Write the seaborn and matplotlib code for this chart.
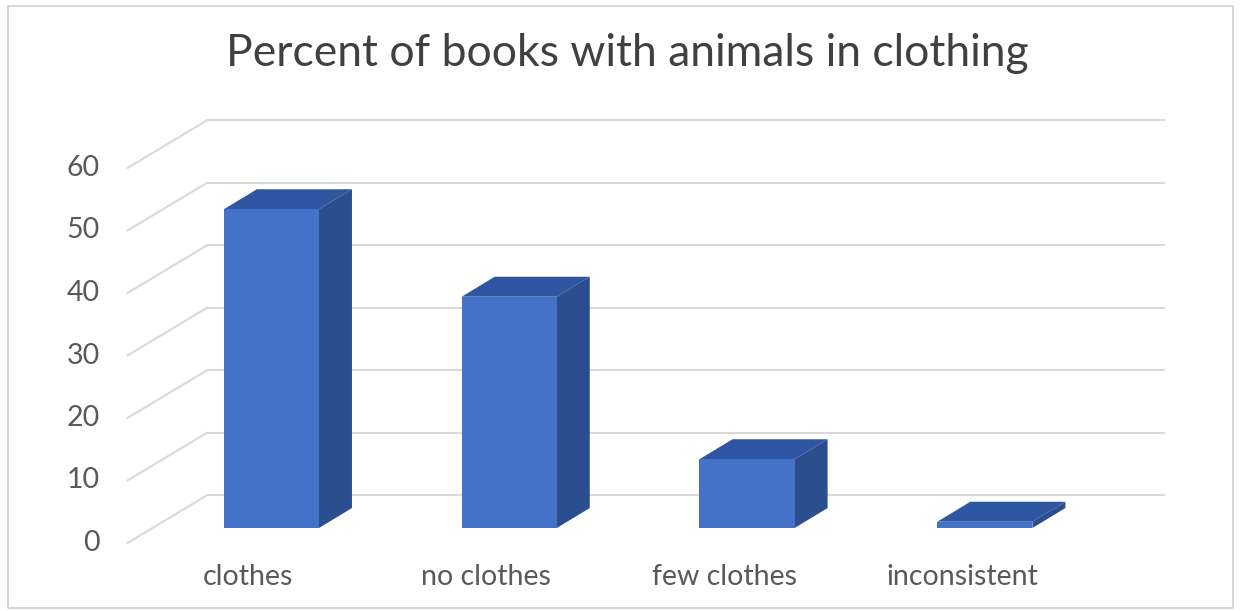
import numpy as np
import pandas as pd
import seaborn as sns
import matplotlib
matplotlib.use("Agg")
import matplotlib.pyplot as plt
from matplotlib.transforms import offset_copy, IdentityTransform
from matplotlib.patches import Polygon, Rectangle
from matplotlib.lines import Line2D

categories = ["clothes", "no clothes", "few clothes", "inconsistent"]
percent = [51, 37, 11, 1]
yticks = [0, 10, 20, 30, 40, 50, 60]
title = "Percent of books with animals in clothing"

sns.set_theme(style="white")
plt.rcParams['font.family'] = ['Lato', 'DejaVu Sans']

W, H = 1241, 611
fig = plt.figure(figsize=(W / 100, H / 100), dpi=100)
fig.patch.set_facecolor("white")

# front plane of the bars (pixels)
x0, x1 = 152.5, 152.5 + 956
ybot, yh = 528, 375
ax = fig.add_axes([x0 / W, (H - ybot) / H, (x1 - x0) / W, yh / H])
ax.set_facecolor("none")

df = pd.DataFrame({"category": categories, "percent": percent})
front_c = "#4472C8"
top_c = "#2F56A3"
side_c = "#2A4E8E"
sns.barplot(data=df, x="category", y="percent", color=front_c, width=0.4,
            saturation=1, ax=ax, zorder=5, edgecolor="none")
ax.set_xlim(-0.5, 3.52)
ax.set_ylim(0, 60)
ax.axis("off")

back = (55, 33)      # back wall offset (px)
front = (-25, -15)   # side wall front offset (px)
depth = (33, 20)     # bar depth (px)
grid_c = "#D9D9D9"
lab_c = "#595959"

fig.canvas.draw()
T = ax.transData
I = IdentityTransform()
for v in yticks:
    pl = T.transform((-0.5, v))
    pr = T.transform((3.52, v))
    ax.add_line(Line2D([pl[0] + back[0], pr[0] + back[0]],
                       [pl[1] + back[1], pr[1] + back[1]],
                       transform=I, color=grid_c, lw=1.5, zorder=1, clip_on=False))
    ax.add_line(Line2D([pl[0] + front[0], pl[0] + back[0]],
                       [pl[1] + front[1], pl[1] + back[1]],
                       transform=I, color=grid_c, lw=1.5, zorder=1, clip_on=False))
    ax.text(-0.5, v, str(v), transform=offset_copy(T, fig=fig, x=-53, y=-15, units='dots'),
            ha="right", va="center", fontsize=20.5, color=lab_c, clip_on=False)

for p in list(ax.patches):
    bx, bw, bh = p.get_x(), p.get_width(), p.get_height()
    tl = T.transform((bx, bh))
    tr = T.transform((bx + bw, bh))
    br = T.transform((bx + bw, 0))
    dx, dy = depth
    top = Polygon([tl, tr, (tr[0] + dx, tr[1] + dy), (tl[0] + dx, tl[1] + dy)],
                  closed=True, transform=I, facecolor=top_c,
                  edgecolor="none", zorder=4, clip_on=False)
    side = Polygon([br, tr, (tr[0] + dx, tr[1] + dy), (br[0] + dx, br[1] + dy)],
                   closed=True, transform=I, facecolor=side_c,
                   edgecolor="none", zorder=4, clip_on=False)
    ax.add_patch(top)
    ax.add_patch(side)
    p.set_zorder(5)

for i, c in enumerate(categories):
    ax.text(i, 0, c, transform=offset_copy(T, fig=fig, x=-23, y=-49, units='dots'),
            ha="center", va="center", fontsize=20.5, color=lab_c, clip_on=False)

fig.text(627 / W, 1 - 54 / H, title, ha="center", va="center", fontsize=32,
         color="#404040")
fig.add_artist(Rectangle((8 / W, 3 / H), (1233 - 8) / W, (605 - 3) / H,
                         transform=fig.transFigure, fill=False, edgecolor="#D0D0D0", lw=1.2))

fig.savefig("out.png", dpi=100)
